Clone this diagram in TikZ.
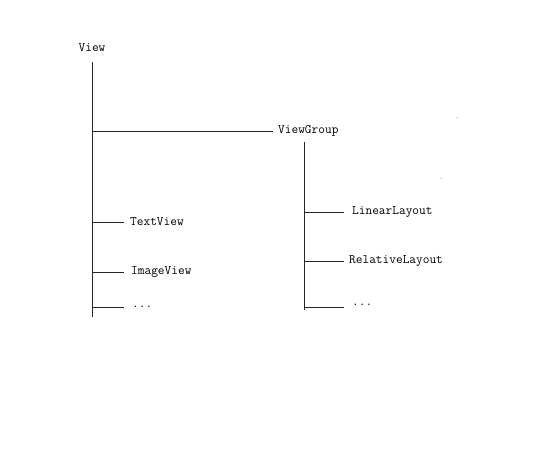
\documentclass[tikz,border=0pt]{standalone}
\begin{document}
\begin{tikzpicture}[x=1pt,y=-1pt,
  lbl/.style={anchor=west,inner sep=0pt,font=\ttfamily\fontsize{13}{15}\selectfont},
  br/.style={draw=black!85,line width=0.9pt}]
\useasboundingbox (0,0) rectangle (554,449);
\node[lbl,anchor=center] (view) at (92,48) {View};
\coordinate (vtop) at (92,62);
\coordinate (vbot) at (92,317);
\draw[br] (vtop) -- (vbot);
\node[lbl] (vg) at (278,131) {ViewGroup};
\coordinate (j1) at (92,131);
\draw[br] (j1) -- ([xshift=-5pt]vg.west);
\node[lbl] (tv) at (130,222) {TextView};
\coordinate (j2) at (92,222);
\draw[br] (j2) -- ([xshift=-6pt]tv.west);
\node[lbl] (iv) at (131,272) {ImageView};
\coordinate (j3) at (92,272);
\draw[br] (j3) -- ([xshift=-7pt]iv.west);
\node[lbl] (d1) at (132,307) {...};
\coordinate (j4) at (92,307);
\draw[br] (j4) -- ([xshift=-8pt]d1.west);
\coordinate (gtop) at (304,142);
\coordinate (gbot) at (304,310);
\draw[br] (gtop) -- (gbot);
\node[lbl] (ll) at (352,212) {LinearLayout};
\coordinate (k1) at (304,212);
\draw[br] (k1) -- ([xshift=-8pt]ll.west);
\node[lbl] (rl) at (349,261) {RelativeLayout};
\coordinate (k2) at (304,261);
\draw[br] (k2) -- ([xshift=-5pt]rl.west);
\node[lbl] (d2) at (352,305) {...};
\coordinate (k3) at (304,307);
\draw[br] (k3) -- ([xshift=-8pt]d2.west |- k3);
\fill[black!50] (457,118) circle (0.7pt);
\fill[black!50] (441,178) circle (0.7pt);
\end{tikzpicture}
\end{document}
